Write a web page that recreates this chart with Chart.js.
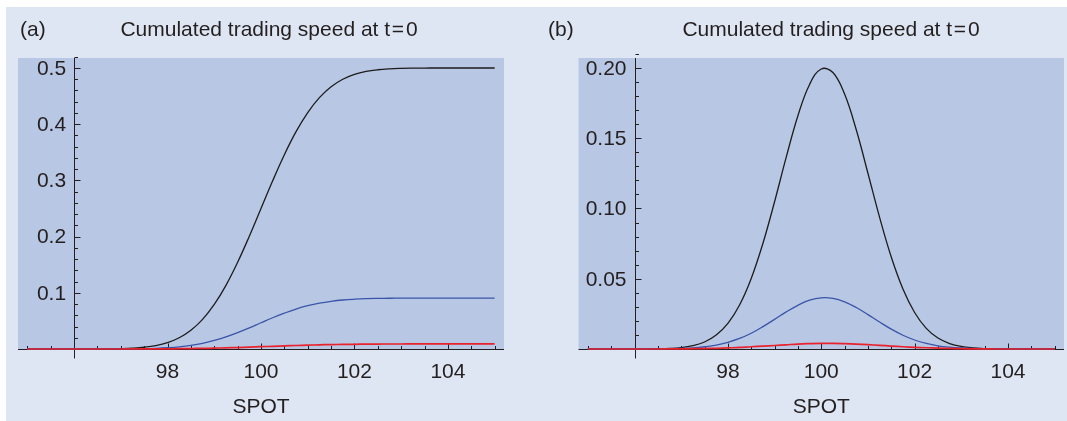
<!DOCTYPE html>
<html>
<head>
<meta charset="utf-8">
<script src="https://cdn.jsdelivr.net/npm/chart.js@4.4.0/dist/chart.umd.min.js"></script>
<style>
  html, body { margin: 0; padding: 0; background: #fff; width: 1067px; height: 421px; overflow: hidden; }
  #page { position: absolute; left: 6px; top: 7px; width: 1061px; height: 414px; background: #dfe6f3; }
  canvas { position: absolute; top: 0; }
  #chartA { left: 0; }
  #chartB { left: 533px; }
  .txt { position: absolute; font-family: "Liberation Sans", Arial, sans-serif; font-size: 21px; line-height: 24px; color: #231f20; white-space: nowrap; }
  .title { width: 420px; text-align: center; }
</style>
</head>
<body>
<div id="page"></div>
<canvas id="chartA" width="533" height="421"></canvas>
<canvas id="chartB" width="534" height="421"></canvas>
<div class="txt" style="left:20px; top:17px;">(a)</div>
<div class="txt title" style="left:59px; top:17px;">Cumulated trading speed at t&#8202;=&#8202;0</div>
<div class="txt" style="left:548px; top:17px;">(b)</div>
<div class="txt title" style="left:621px; top:17px;">Cumulated trading speed at t&#8202;=&#8202;0</div>

<script>
// SPOT grid shared by both panels (step 0.25)
const spot = [95, 95.25, 95.5, 95.75, 96, 96.25, 96.5, 96.75, 97, 97.25, 97.5,
              97.75, 98, 98.25, 98.5, 98.75, 99, 99.25, 99.5, 99.75, 100,
              100.25, 100.5, 100.75, 101, 101.25, 101.5, 101.75, 102, 102.25, 102.5,
              102.75, 103, 103.25, 103.5, 103.75, 104, 104.25, 104.5, 104.75, 105];

// panel (a): cumulated speed
const speedA_black = [0, 0, 0, 0, 0, 0.0001, 0.0001, 0.0003, 0.0007, 0.0015, 0.0031,
                      0.0061, 0.0114, 0.0201, 0.0334, 0.0528, 0.0793, 0.1133, 0.1543, 0.2007, 0.25,
                      0.2993, 0.3457, 0.3867, 0.4207, 0.4472, 0.4666, 0.4799, 0.4886, 0.4939, 0.4969,
                      0.4985, 0.4993, 0.4997, 0.4999, 0.5, 0.5, 0.5, 0.5, 0.5, 0.5];
const speedA_blue = [0, 0, 0, 0, 0, 0, 0, 0.0001, 0.0001, 0.0003, 0.0006,
                     0.0012, 0.0023, 0.0039, 0.0065, 0.0102, 0.0152, 0.0216, 0.0292, 0.0377, 0.0467,
                     0.0556, 0.0638, 0.0711, 0.077, 0.0816, 0.0849, 0.0872, 0.0886, 0.0895, 0.09,
                     0.0903, 0.0904, 0.0905, 0.0905, 0.0905, 0.0905, 0.0905, 0.0905, 0.0905, 0.0905];
const speedA_red = [0, 0, 0, 0, 0, 0, 0, 0, 0, 0.0001, 0.0001,
                    0.0002, 0.0003, 0.0005, 0.0008, 0.0011, 0.0015, 0.002, 0.0026, 0.0033, 0.0041,
                    0.0048, 0.0055, 0.0062, 0.0068, 0.0074, 0.0078, 0.0082, 0.0084, 0.0086, 0.0088,
                    0.0089, 0.0089, 0.009, 0.009, 0.009, 0.009, 0.009, 0.009, 0.009, 0.009];

// panel (b)
const speedB_black = [0, 0, 0, 0, 0, 0.0001, 0.0002, 0.0004, 0.001, 0.0024, 0.005,
                      0.0099, 0.0182, 0.0313, 0.0502, 0.0751, 0.1048, 0.1365, 0.166, 0.1883, 0.1993,
                      0.1968, 0.1814, 0.156, 0.1251, 0.0937, 0.0655, 0.0427, 0.026, 0.0147, 0.0078,
                      0.0039, 0.0018, 0.0008, 0.0003, 0.0001, 0, 0, 0, 0, 0];
const speedB_blue = [0, 0, 0, 0, 0, 0, 0.0001, 0.0002, 0.0004, 0.0008, 0.0016,
                     0.0028, 0.0048, 0.0075, 0.0112, 0.0159, 0.0211, 0.0264, 0.0311, 0.0347, 0.0364,
                     0.036, 0.0336, 0.0295, 0.0245, 0.0192, 0.0141, 0.0098, 0.0064, 0.004, 0.0023,
                     0.0013, 0.0007, 0.0003, 0.0001, 0.0001, 0, 0, 0, 0, 0];
const speedB_red = [0, 0, 0, 0, 0, 0, 0, 0.0001, 0.0001, 0.0002, 0.0003,
                    0.0005, 0.0008, 0.0011, 0.0016, 0.002, 0.0025, 0.003, 0.0035, 0.0038, 0.004,
                    0.004, 0.0038, 0.0035, 0.0031, 0.0026, 0.0021, 0.0016, 0.0012, 0.0009, 0.0006,
                    0.0004, 0.0002, 0.0001, 0.0001, 0, 0, 0, 0, 0, 0];

// ticks
const xTicks = [98, 100, 102, 104];
const xTickLabels = ['98', '100', '102', '104'];
const yTicksA = [0.1, 0.2, 0.3, 0.4, 0.5];
const yTickLabelsA = ['0.1', '0.2', '0.3', '0.4', '0.5'];
const yTicksB = [0.05, 0.10, 0.15, 0.20];
const yTickLabelsB = ['0.05', '0.10', '0.15', '0.20'];
const xAxisTitle = 'SPOT';

const PLOT_BG = '#b8c7e4';
const INK = '#231f20';
const FONT = '21px "Liberation Sans", Arial, sans-serif';

// Mathematica style frame: axes crossing inside the plot, ticks pointing inward
const mathAxes = {
    id: 'mathAxes',
    beforeDraw(chart) {
        const a = chart.chartArea;
        const ctx = chart.ctx;
        ctx.save();
        ctx.fillStyle = PLOT_BG;
        ctx.fillRect(a.left, a.top, a.right - a.left, a.bottom - a.top);
        ctx.restore();
    },
    beforeDatasetsDraw(chart, args, opts) {
        const a = chart.chartArea;
        const ctx = chart.ctx;
        const xs = chart.scales.x, ys = chart.scales.y;
        const x0 = Math.round(xs.getPixelForValue(opts.originX)) + 0.5;
        const y0 = Math.round(ys.getPixelForValue(0)) + 0.5;
        ctx.save();
        ctx.strokeStyle = INK;
        ctx.lineWidth = 1;
        ctx.beginPath();
        ctx.moveTo(a.left, y0); ctx.lineTo(a.right, y0);
        ctx.moveTo(x0, a.top); ctx.lineTo(x0, y0 + 9);
        // x ticks
        for (let v = opts.xFrom; v <= opts.xTo + 1e-9; v += opts.xMinor) {
            if (Math.abs(v - opts.originX) < 1e-9) continue;
            const px = Math.round(xs.getPixelForValue(v)) + 0.5;
            const len = xTicks.includes(v) ? 6 : 3.5;
            ctx.moveTo(px, y0); ctx.lineTo(px, y0 - len);
        }
        // y ticks
        const n = Math.round(opts.yTo / opts.yMinor);
        for (let i = 1; i <= n; i++) {
            const v = i * opts.yMinor;
            const py = Math.round(ys.getPixelForValue(v)) + 0.5;
            const major = opts.yTicks.some(t => Math.abs(t - v) < 1e-9);
            ctx.moveTo(x0, py); ctx.lineTo(x0 + (major ? 6 : 3.5), py);
        }
        ctx.stroke();
        ctx.restore();
    },
    afterDraw(chart, args, opts) {
        const a = chart.chartArea;
        const ctx = chart.ctx;
        const xs = chart.scales.x, ys = chart.scales.y;
        const x0 = xs.getPixelForValue(opts.originX);
        ctx.save();
        ctx.fillStyle = INK;
        ctx.font = FONT;
        ctx.textBaseline = 'middle';
        ctx.textAlign = 'right';
        opts.yTicks.forEach((v, i) => {
            ctx.fillText(opts.yLabels[i], x0 - 8, ys.getPixelForValue(v) + 1);
        });
        ctx.textAlign = 'center';
        xTicks.forEach((v, i) => {
            ctx.fillText(xTickLabels[i], xs.getPixelForValue(v), a.bottom + 23);
        });
        ctx.fillText(xAxisTitle, (a.left + a.right) / 2, a.bottom + 58);
        ctx.restore();
    }
};

function series(values, color, width) {
    return {
        data: spot.map((x, i) => ({ x: x, y: values[i] })),
        borderColor: color,
        borderWidth: width,
        pointRadius: 0,
        tension: 0.4,
        clip: false
    };
}

function makeChart(id, sets, yMax, yTicks, yLabels, yMinor, pad) {
    return new Chart(document.getElementById(id), {
        type: 'line',
        data: { datasets: sets },
        plugins: [mathAxes],
        options: {
            responsive: false,
            animation: false,
            layout: { padding: pad },
            scales: {
                x: { type: 'linear', min: 94.8, max: 105.2, display: false },
                y: { min: 0, max: yMax, display: false }
            },
            plugins: {
                legend: { display: false },
                tooltip: { enabled: false },
                mathAxes: {
                    originX: 96, xFrom: 95, xTo: 105, xMinor: 0.5,
                    yTicks: yTicks, yLabels: yLabels, yTo: yMax, yMinor: yMinor
                }
            }
        }
    });
}

makeChart('chartA', [
    series(speedA_red, '#e8222c', 1.7),
    series(speedA_blue, '#3a55a8', 1.3),
    series(speedA_black, '#1c1c1c', 1.3)
], 0.5178, yTicksA, yTickLabelsA, 0.02, { left: 18, top: 58, right: 29, bottom: 72 });

makeChart('chartB', [
    series(speedB_red, '#e8222c', 1.7),
    series(speedB_blue, '#3a55a8', 1.3),
    series(speedB_black, '#1c1c1c', 1.3)
], 0.2071, yTicksB, yTickLabelsB, 0.01, { left: 45.5, top: 58, right: 3, bottom: 72 });
</script>
</body>
</html>
